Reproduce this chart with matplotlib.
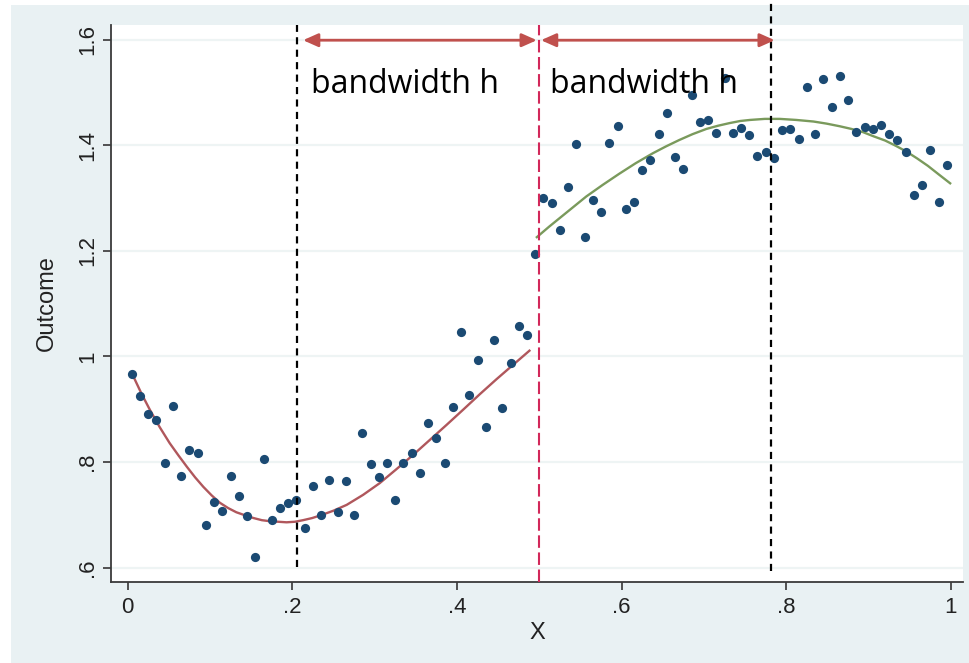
import matplotlib
matplotlib.use("Agg")
import matplotlib.pyplot as plt
from matplotlib.patches import Rectangle
from matplotlib.transforms import blended_transform_factory

# binned outcome means, left of the cutoff
x_left = [0.005, 0.015, 0.025, 0.035, 0.045, 0.055, 0.065, 0.075, 0.085, 0.095,
          0.105, 0.115, 0.125, 0.135, 0.145, 0.155, 0.165, 0.175, 0.185, 0.195,
          0.205, 0.215, 0.225, 0.235, 0.245, 0.255, 0.265, 0.275, 0.285, 0.295,
          0.305, 0.315, 0.325, 0.335, 0.345, 0.355, 0.365, 0.375, 0.385, 0.395,
          0.405, 0.415, 0.425, 0.435, 0.445, 0.455, 0.465, 0.475, 0.485, 0.495]
y_left = [0.967, 0.925, 0.892, 0.880, 0.798, 0.907, 0.774, 0.823, 0.818, 0.681,
          0.724, 0.708, 0.774, 0.736, 0.697, 0.620, 0.806, 0.690, 0.713, 0.723,
          0.728, 0.676, 0.755, 0.700, 0.767, 0.705, 0.764, 0.700, 0.856, 0.797,
          0.772, 0.799, 0.728, 0.798, 0.818, 0.779, 0.874, 0.846, 0.799, 0.904,
          1.046, 0.927, 0.994, 0.867, 1.032, 0.903, 0.988, 1.058, 1.041, 1.194]

# binned outcome means, right of the cutoff
x_right = [0.505, 0.515, 0.525, 0.535, 0.545, 0.555, 0.565, 0.575, 0.585, 0.595,
           0.605, 0.615, 0.625, 0.635, 0.645, 0.655, 0.665, 0.675, 0.685, 0.695,
           0.705, 0.715, 0.725, 0.735, 0.745, 0.755, 0.765, 0.775, 0.785, 0.795,
           0.805, 0.815, 0.825, 0.835, 0.845, 0.855, 0.865, 0.875, 0.885, 0.895,
           0.905, 0.915, 0.925, 0.935, 0.945, 0.955, 0.965, 0.975, 0.985, 0.995]
y_right = [1.300, 1.290, 1.240, 1.321, 1.402, 1.226, 1.297, 1.274, 1.404, 1.436,
           1.279, 1.293, 1.353, 1.373, 1.422, 1.461, 1.377, 1.356, 1.495, 1.445,
           1.447, 1.423, 1.527, 1.424, 1.432, 1.420, 1.380, 1.388, 1.375, 1.429,
           1.430, 1.411, 1.510, 1.421, 1.526, 1.472, 1.531, 1.486, 1.425, 1.434,
           1.430, 1.439, 1.421, 1.410, 1.387, 1.305, 1.325, 1.391, 1.293, 1.362]

# fitted regression lines on each side
fit_left_x = [0.007, 0.017, 0.027, 0.039, 0.051, 0.062, 0.072, 0.082, 0.092, 0.102,
              0.112, 0.122, 0.132, 0.143, 0.153, 0.163, 0.173, 0.183, 0.193, 0.203,
              0.213, 0.224, 0.234, 0.250, 0.266, 0.286, 0.306, 0.326, 0.347, 0.367,
              0.387, 0.408, 0.428, 0.448, 0.468, 0.488]
fit_left_y = [0.962, 0.929, 0.899, 0.866, 0.836, 0.812, 0.791, 0.771, 0.753, 0.737,
              0.723, 0.713, 0.705, 0.699, 0.694, 0.690, 0.688, 0.687, 0.686, 0.687,
              0.690, 0.694, 0.699, 0.708, 0.719, 0.738, 0.760, 0.786, 0.814, 0.842,
              0.870, 0.900, 0.929, 0.957, 0.984, 1.011]
fit_right_x = [0.497, 0.512, 0.527, 0.542, 0.557, 0.577, 0.597, 0.617, 0.638, 0.654,
               0.670, 0.686, 0.703, 0.717, 0.731, 0.744, 0.756, 0.774, 0.792, 0.812,
               0.833, 0.849, 0.865, 0.879, 0.893, 0.906, 0.920, 0.933, 0.946, 0.959,
               0.972, 0.985, 0.999]
fit_right_y = [1.226, 1.246, 1.265, 1.284, 1.303, 1.325, 1.346, 1.366, 1.385, 1.398,
               1.410, 1.421, 1.431, 1.437, 1.442, 1.446, 1.448, 1.450, 1.450, 1.448,
               1.445, 1.441, 1.436, 1.431, 1.425, 1.417, 1.409, 1.399, 1.388, 1.375,
               1.361, 1.345, 1.328]

cutoff = 0.5
band_lo = 0.2056
band_hi = 0.781
x_ticks = [0, 0.2, 0.4, 0.6, 0.8, 1]
x_labels = ["0", ".2", ".4", ".6", ".8", "1"]
y_ticks = [0.6, 0.8, 1.0, 1.2, 1.4, 1.6]
y_labels = [".6", ".8", "1", "1.2", "1.4", "1.6"]

bg = "#e9f1f3"
plt.rcParams["font.family"] = ["Liberation Sans", "DejaVu Sans"]

fig = plt.figure(figsize=(9.69, 6.63), dpi=100, facecolor="white")
fig.patches.append(Rectangle((11 / 969, 0), 1, 1 - 5 / 663, transform=fig.transFigure,
                             facecolor=bg, edgecolor="none", zorder=-10))
ax = fig.add_axes([110.7 / 969, 1 - 581.7 / 663, (963 - 110.7) / 969, (581.7 - 25) / 663])
ax.set_facecolor("white")

ax.set_xlim(-0.0206, 1.0146)
ax.set_ylim(0.5735, 1.6278)

for s in ["top", "right"]:
    ax.spines[s].set_visible(False)
for s in ["left", "bottom"]:
    ax.spines[s].set_color("#3a3a3a")
    ax.spines[s].set_linewidth(1.3)

ax.set_yticks(y_ticks)
ax.set_yticklabels(y_labels, rotation=90, va="center", ha="right")
ax.set_xticks(x_ticks)
ax.set_xticklabels(x_labels)
ax.tick_params(axis="both", direction="out", length=6, width=1.3, color="#444444",
               labelsize=16, labelcolor="#222222")
ax.tick_params(axis="y", pad=3)
ax.tick_params(axis="x", pad=5)
ax.yaxis.grid(True, color="#eef4f4", linewidth=1.6)
ax.set_axisbelow(True)

ax.set_ylabel("Outcome", fontsize=17, color="#222222", labelpad=14)
ax.set_xlabel("X", fontsize=17, color="#222222", labelpad=3)

# data and fits
ax.scatter(x_left, y_left, s=44, color="#1b4a73", zorder=3, linewidths=0)
ax.scatter(x_right, y_right, s=44, color="#1b4a73", zorder=3, linewidths=0)
ax.plot(fit_left_x, fit_left_y, color="#b0575c", linewidth=1.7, zorder=2)
ax.plot(fit_right_x, fit_right_y, color="#7a9a5c", linewidth=1.7, zorder=2)

# cutoff and bandwidth limits
tr = blended_transform_factory(ax.transData, ax.transAxes)
ax.plot([cutoff, cutoff], [0, 1], transform=tr, color="#d2285a", linewidth=1.5,
        dashes=(6, 2.2), zorder=4, clip_on=False)
ax.plot([band_lo, band_lo], [0.026, 1.0], transform=tr, color="black", linewidth=1.6,
        dashes=(3.2, 2.4), zorder=4, clip_on=False)
ax.plot([band_hi, band_hi], [0.019, 1.045], transform=tr, color="black", linewidth=1.6,
        dashes=(3.2, 2.4), zorder=4, clip_on=False)

# bandwidth arrows and labels
arrow_y = 1.599
for a, b in [(0.213, 0.497), (0.502, 0.786)]:
    ax.annotate("", xy=(a, arrow_y), xytext=(b, arrow_y),
                arrowprops=dict(arrowstyle="<|-|>,head_length=0.9,head_width=0.4",
                                color="#c0504d", lw=2, shrinkA=0, shrinkB=0),
                zorder=5)
for tx in [0.2225, 0.5135]:
    ax.text(tx, 1.499, "bandwidth h", fontsize=23, family=["Open Sans", "DejaVu Sans"],
            color="black", ha="left", va="baseline", zorder=5)

fig.savefig("out.png", dpi=100, facecolor=fig.get_facecolor())
